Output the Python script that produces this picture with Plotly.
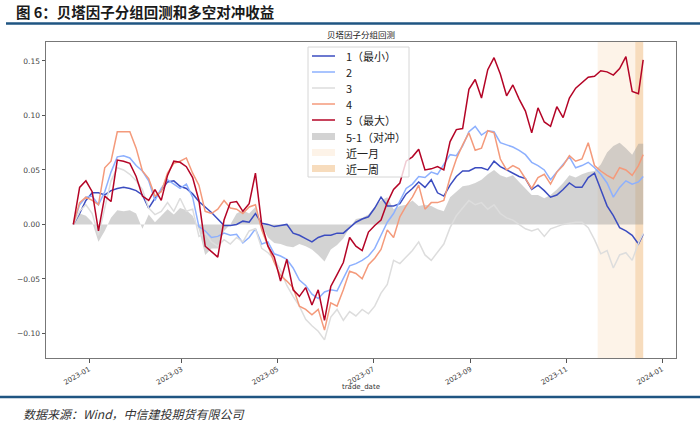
import pandas as pd
import plotly.graph_objects as go

# ---------------- data ----------------
dates = list(pd.date_range("2022-12-22", periods=91, freq="4D")) + [pd.Timestamp("2023-12-20")]

g1 = [0.000, 0.010, 0.022, 0.029, 0.029, 0.027, 0.031, 0.033, 0.034, 0.033,
      0.031, 0.027, 0.015, 0.024, 0.031, 0.039, 0.040, 0.035, 0.033, 0.028,
      0.021, 0.016, 0.011, 0.005, -0.001, -0.001, 0.000, 0.003, 0.002, 0.010,
      0.001, 0.000, -0.002, -0.001, 0.000, -0.008, -0.010, -0.013, -0.016, -0.012,
      -0.010, -0.010, -0.008, -0.008, -0.003, 0.002, 0.005, 0.007, 0.015, 0.025,
      0.017, 0.017, 0.019, 0.028, 0.033, 0.039, 0.034, 0.041, 0.029, 0.026,
      0.036, 0.044, 0.049, 0.049, 0.052, 0.052, 0.050, 0.058, 0.053, 0.050,
      0.047, 0.044, 0.042, 0.032, 0.036, 0.031, 0.025, 0.027, 0.032, 0.038,
      0.034, 0.034, 0.043, 0.047, 0.032, 0.017, 0.008, -0.003, -0.006, -0.010,
      -0.018, -0.009]

g2 = [0.000, 0.018, 0.025, 0.026, 0.018, 0.030, 0.048, 0.062, 0.063, 0.061,
      0.054, 0.049, 0.040, 0.022, 0.033, 0.041, 0.037, 0.033, 0.037, 0.025,
      -0.002, -0.006, -0.012, -0.011, -0.008, -0.010, -0.009, -0.017, -0.012, -0.004,
      -0.018, -0.016, -0.027, -0.029, -0.032, -0.040, -0.051, -0.056, -0.064, -0.068,
      -0.062, -0.060, -0.061, -0.050, -0.038, -0.036, -0.033, -0.029, -0.022, -0.010,
      0.002, 0.010, 0.022, 0.033, 0.037, 0.044, 0.043, 0.048, 0.046, 0.055,
      0.064, 0.063, 0.072, 0.085, 0.090, 0.082, 0.086, 0.085, 0.075, 0.073,
      0.071, 0.068, 0.064, 0.057, 0.054, 0.050, 0.041, 0.048, 0.055, 0.062,
      0.052, 0.054, 0.057, 0.052, 0.046, 0.038, 0.025, 0.034, 0.040, 0.037,
      0.039, 0.044]

g3 = [0.000, 0.012, 0.018, 0.010, -0.010, 0.016, 0.040, 0.052, 0.050, 0.046,
      0.040, 0.032, 0.015, 0.009, 0.012, 0.020, 0.012, 0.024, 0.012, 0.014,
      -0.011, -0.008, -0.016, -0.020, -0.014, -0.018, -0.012, -0.016, -0.006, -0.004,
      -0.022, -0.026, -0.032, -0.042, -0.056, -0.066, -0.075, -0.087, -0.093, -0.098,
      -0.106, -0.085, -0.078, -0.088, -0.080, -0.084, -0.078, -0.082, -0.075, -0.063,
      -0.055, -0.033, -0.036, -0.030, -0.024, -0.016, -0.028, -0.033, -0.026, -0.018,
      -0.003, 0.008, 0.015, 0.022, 0.018, 0.020, 0.014, 0.018, 0.010, 0.006,
      0.004, 0.000, -0.004, -0.006, -0.004, -0.011, -0.004, -0.002, 0.000, 0.001,
      0.002, 0.002, -0.003, -0.014, -0.027, -0.024, -0.040, -0.028, -0.026, -0.033,
      -0.017, -0.008]

g4 = [0.000, 0.020, 0.025, 0.022, 0.018, 0.052, 0.058, 0.085, 0.085, 0.085,
      0.070, 0.049, 0.042, 0.026, 0.030, 0.047, 0.056, 0.058, 0.061, 0.047,
      0.036, 0.012, 0.010, 0.014, 0.022, 0.015, 0.014, 0.010, 0.016, 0.018,
      -0.005, -0.020, -0.035, -0.047, -0.052, -0.058, -0.075, -0.078, -0.083, -0.078,
      -0.097, -0.072, -0.075, -0.060, -0.043, -0.045, -0.050, -0.037, -0.031, -0.023,
      -0.005, -0.012, 0.007, 0.017, 0.025, 0.036, 0.014, 0.020, 0.020, 0.022,
      0.043, 0.060, 0.073, 0.084, 0.068, 0.070, 0.086, 0.084, 0.060, 0.050,
      0.054, 0.051, 0.042, 0.033, 0.043, 0.046, 0.037, 0.048, 0.054, 0.063,
      0.058, 0.060, 0.075, 0.054, 0.049, 0.045, 0.042, 0.052, 0.050, 0.045,
      0.054, 0.064]

g5 = [0.000, 0.034, 0.040, 0.030, -0.006, 0.026, 0.021, 0.059, 0.058, 0.056,
      0.044, 0.026, 0.022, 0.032, 0.022, 0.045, 0.058, 0.057, 0.053, 0.043,
      0.022, -0.020, -0.025, -0.030, 0.004, 0.020, 0.021, 0.012, 0.019, 0.047,
      0.000, -0.020, -0.030, -0.052, -0.032, -0.060, -0.066, -0.058, -0.074, -0.060,
      -0.088, -0.057, -0.046, -0.035, -0.012, -0.020, -0.024, -0.007, -0.001, 0.004,
      0.020, 0.032, 0.038, 0.058, 0.062, 0.069, 0.050, 0.051, 0.053, 0.050,
      0.076, 0.087, 0.088, 0.124, 0.133, 0.116, 0.142, 0.153, 0.138, 0.118,
      0.128, 0.115, 0.104, 0.084, 0.107, 0.094, 0.090, 0.108, 0.098, 0.116,
      0.125, 0.130, 0.135, 0.136, 0.141, 0.140, 0.137, 0.143, 0.154, 0.122,
      0.120, 0.151]

hedge = [0.000, 0.010, 0.008, 0.002, -0.016, -0.006, 0.006, 0.013, 0.012, 0.013,
         0.010, -0.004, 0.009, 0.002, 0.008, 0.014, 0.009, 0.015, 0.013, 0.008,
         -0.005, -0.028, -0.022, -0.022, -0.006, 0.000, 0.010, 0.013, 0.010, 0.016,
         -0.001, -0.012, -0.017, -0.018, -0.020, -0.021, -0.018, -0.020, -0.023, -0.028,
         -0.034, -0.023, -0.019, -0.013, -0.003, 0.005, 0.006, 0.009, 0.016, 0.022,
         0.025, 0.014, 0.017, 0.018, 0.022, 0.017, 0.018, 0.017, 0.014, 0.012,
         0.025, 0.030, 0.035, 0.036, 0.038, 0.041, 0.046, 0.050, 0.045, 0.043,
         0.045, 0.039, 0.033, 0.027, 0.027, 0.024, 0.027, 0.032, 0.038, 0.045,
         0.043, 0.046, 0.048, 0.049, 0.055, 0.066, 0.072, 0.075, 0.070, 0.064,
         0.074, 0.074]

series_names = ["1（最小）", "2", "3", "4", "5（最大）"]
hedge_name = "5-1（对冲）"
band_names = ["近一月", "近一周"]
month_start = "2023-11-21"
week_start = "2023-12-15"
x_ticks = ["2023-01-01", "2023-03-01", "2023-05-01", "2023-07-01",
           "2023-09-01", "2023-11-01", "2024-01-01"]
y_ticks = [-0.10, -0.05, 0.00, 0.05, 0.10, 0.15]

# ---------------- styles ----------------
colors = ["#3b4cc0", "#8db0fe", "#dddddd", "#f49a7b", "#b40426"]
hedge_fill = "rgba(150,150,150,0.42)"
month_color = "#fdf3e8"
week_color = "#f7dcbd"
W, H = 700, 423
L, R, T, B = 46, 676, 42, 358


def xp(px):
    return (px - L) / (R - L)


def yp(py):
    return (B - py) / (B - T)


fig = go.Figure()
fig.add_trace(go.Scatter(x=dates, y=hedge, mode="lines", fill="tozeroy",
                         fillcolor=hedge_fill, line=dict(width=0, color="rgba(0,0,0,0)"),
                         showlegend=False, hoverinfo="skip"))
for name, vals, c in zip(series_names, [g1, g2, g3, g4, g5], colors):
    fig.add_trace(go.Scatter(x=dates, y=vals, mode="lines", name=name,
                             line=dict(color=c, width=1.5), showlegend=False))

end_date = dates[-1]
fig.add_vrect(x0=month_start, x1=end_date, fillcolor=month_color, line_width=0, layer="below")
fig.add_vrect(x0=week_start, x1=end_date, fillcolor=week_color, line_width=0, layer="below")

shapes = []
annotations = []

# title + underline
annotations.append(dict(text="<b>图 6：贝塔因子分组回测和多空对冲收益</b>", x=xp(14), y=yp(12),
                        xref="paper", yref="paper", xanchor="left", yanchor="middle",
                        showarrow=False, font=dict(family="Noto Sans CJK SC", size=14.5, color="#1a1a1a")))
shapes.append(dict(type="line", xref="paper", yref="paper", x0=xp(6), x1=xp(700),
                   y0=yp(23.5), y1=yp(23.5), line=dict(color="#1f5582", width=2.5)))
# subtitle
annotations.append(dict(text="贝塔因子分组回测", x=0.5, y=yp(34), xref="paper", yref="paper",
                        xanchor="center", yanchor="middle", showarrow=False,
                        font=dict(family="Noto Sans CJK SC", size=8.5, color="#222")))
# x label
annotations.append(dict(text="trade_date", x=0.5, y=yp(387), xref="paper", yref="paper",
                        xanchor="center", yanchor="middle", showarrow=False,
                        font=dict(family="DejaVu Sans", size=7, color="#333")))
# bottom rule + source
shapes.append(dict(type="line", xref="paper", yref="paper", x0=xp(0), x1=xp(700),
                   y0=yp(397), y1=yp(397), line=dict(color="#1f5582", width=2.5)))
annotations.append(dict(text="数据来源：Wind，中信建投期货有限公司", x=xp(21), y=yp(413),
                        xref="paper", yref="paper", xanchor="left", yanchor="middle",
                        showarrow=False,
                        font=dict(family="Noto Sans CJK SC", size=12, color="#333", style="italic")))

# legend (manual)
shapes.append(dict(type="rect", xref="paper", yref="paper", x0=xp(308), x1=xp(409),
                   y0=yp(47), y1=yp(177), fillcolor="rgba(255,255,255,0.8)",
                   line=dict(color="#d6d6d6", width=1), layer="above"))
rows = [56, 72, 88, 104, 120, 136.5, 152.5, 168.5]
labels = series_names + [hedge_name] + band_names
for i, (lab, ry) in enumerate(zip(labels, rows)):
    if i < 5:
        shapes.append(dict(type="line", xref="paper", yref="paper", x0=xp(312), x1=xp(335),
                           y0=yp(ry), y1=yp(ry), line=dict(color=colors[i], width=1.5), layer="above"))
    else:
        fc = [hedge_fill, month_color, week_color][i - 5]
        shapes.append(dict(type="rect", xref="paper", yref="paper", x0=xp(312), x1=xp(335),
                           y0=yp(ry + 3.5), y1=yp(ry - 3.5), fillcolor=fc, line=dict(width=0),
                           layer="above"))
    annotations.append(dict(text=lab, x=xp(344), y=yp(ry), xref="paper", yref="paper",
                            xanchor="left", yanchor="middle", showarrow=False,
                            font=dict(family="Noto Sans CJK SC", size=11, color="#222")))

fig.update_layout(
    width=W, height=H,
    margin=dict(l=L, r=W - R, t=T, b=H - B),
    paper_bgcolor="white", plot_bgcolor="white",
    shapes=list(fig.layout.shapes) + shapes,
    annotations=annotations,
    showlegend=False,
)
fig.update_xaxes(type="date", range=["2022-12-04 14:00", "2024-01-09 22:00"],
                 tickvals=x_ticks, tickformat="%Y-%m", tickangle=-30,
                 ticks="outside", ticklen=3.5, tickcolor="#555",
                 tickfont=dict(family="DejaVu Sans", size=7, color="#444"),
                 showline=True, mirror=True, linecolor="#777", linewidth=1,
                 showgrid=False, zeroline=False)
fig.update_yaxes(range=[-0.1226, 0.1674], tickvals=y_ticks, tickformat=".2f",
                 ticks="outside", ticklen=3.5, tickcolor="#555",
                 tickfont=dict(family="DejaVu Sans", size=7.5, color="#444"),
                 showline=True, mirror=True, linecolor="#777", linewidth=1,
                 showgrid=False, zeroline=False)

fig.write_html("out.html")
